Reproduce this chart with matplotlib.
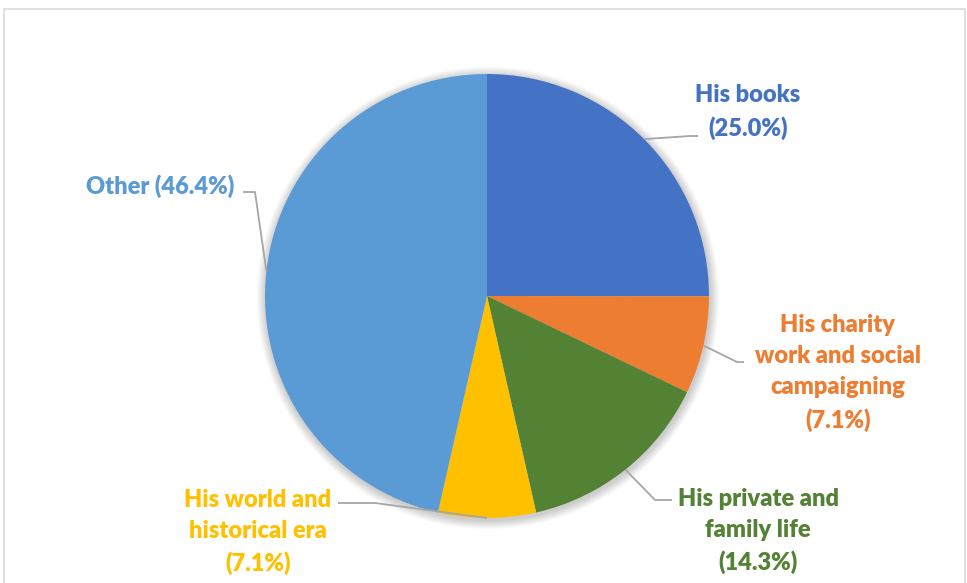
import numpy as np
import matplotlib
matplotlib.use("Agg")
import matplotlib.pyplot as plt
from matplotlib.patches import Circle, Rectangle

# Share of coverage by topic (percent)
categories = ["His books", "His charity work and social campaigning",
              "His private and family life", "His world and historical era", "Other"]
shares = [25.0, 7.1, 14.3, 7.1, 46.4]
label_texts = ["His books\n(25.0%)",
               "His charity\nwork and social\ncampaigning\n(7.1%)",
               "His private and\nfamily life\n(14.3%)",
               "His world and\nhistorical era\n(7.1%)",
               "Other (46.4%)"]
colors = ["#4472C4", "#ED7D31", "#548235", "#FFC000", "#5B9BD5"]

W, H = 967, 583
fig = plt.figure(figsize=(W / 100, H / 100), dpi=100)
ax = fig.add_axes([0, 0, 1, 1])

def py(y):
    """Convert a top-down pixel row into the axes' bottom-up y."""
    return H - y

# chart frame (runs off the bottom edge)
fig.patches.append(Rectangle((4 / W, -0.05), 961 / W, (H - 9) / H + 0.05,
                             transform=fig.transFigure, fill=False,
                             edgecolor="#D9D9D9", linewidth=1.2))

cx, cy, r = 487, py(296), 222

# soft shadow around the pie
for i in range(10):
    ax.add_patch(Circle((cx + 1, cy - 2), r + 1 + i * 0.9, facecolor="black",
                        edgecolor="none", alpha=0.018, zorder=1))

wedges, _ = ax.pie(shares, colors=colors, startangle=90, counterclock=False,
                   center=(cx, cy), radius=r, frame=True,
                   wedgeprops=dict(linewidth=0, zorder=2))
ax.set_xlim(0, W)
ax.set_ylim(0, H)
ax.set_aspect("equal")
ax.axis("off")

# label centres and leader routes (label end, elbow) in pixel rows
label_pos = [(748, 112), (838, 373), (758, 531), (258, 532), (160, 186)]
leader_route = [[(698, 136), (690, 136)],
                [(744, 362), (737, 362)],
                [(672, 500), (655, 500)],
                [(338, 503), (375, 503)],
                [(243, 192), (255, 192)]]

font = ["Lato", "DejaVu Sans"]
for w, txt, col, (lx, ly), route in zip(wedges, label_texts, colors, label_pos, leader_route):
    mid = np.deg2rad((w.theta1 + w.theta2) / 2)
    ex, ey = cx + r * np.cos(mid), cy + r * np.sin(mid)
    xs = [p[0] for p in route] + [ex]
    ys = [py(p[1]) for p in route] + [ey]
    ax.plot(xs, ys, color="#A6A6A6", linewidth=1.3, zorder=3, solid_capstyle="butt")
    ax.text(lx, py(ly), txt, ha="center", va="center", color=col, fontsize=17,
            fontweight="heavy", family=font, linespacing=1.5, zorder=4)

fig.savefig("out.png", dpi=100)
